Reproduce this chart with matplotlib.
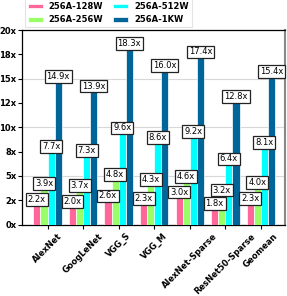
import matplotlib
matplotlib.use("Agg")
import matplotlib.pyplot as plt
from matplotlib.ticker import MultipleLocator, FuncFormatter
import numpy as np

categories = ["AlexNet", "GoogLeNet", "VGG_S", "VGG_M", "AlexNet-Sparse", "ResNet50-Sparse", "Geomean"]
series_names = ["256A-128W", "256A-256W", "256A-512W", "256A-1KW"]
s128 = [2.2, 2.0, 2.6, 2.3, 3.0, 1.8, 2.3]
s256 = [3.9, 3.7, 4.8, 4.3, 4.6, 3.2, 4.0]
s512 = [7.7, 7.3, 9.6, 8.6, 9.2, 6.4, 8.1]
s1k = [14.9, 13.9, 18.3, 16.0, 17.4, 12.8, 15.4]
colors = ["#ff6699", "#99ff66", "#00ffff", "#006699"]

fig = plt.figure(figsize=(2.87, 2.96), dpi=100)
ax = fig.add_axes([22/287, 1-224.5/296, (285-22)/287, (224.5-30)/296])

x = np.arange(len(categories))
w = 0.2
offs = [-0.3, -0.1, 0.1, 0.3]
handles = []
for vals, name, c, o in zip([s128, s256, s512, s1k], series_names, colors, offs):
    b = ax.bar(x + o, vals, w, color=c, edgecolor="white", linewidth=0.5, label=name, zorder=3)
    handles.append(b)
    for xi, v in zip(x, vals):
        ax.text(xi + o, v + 0.34, f"{v:.1f}x", ha="center", va="center", fontsize=6,
                zorder=5,
                bbox=dict(boxstyle="square,pad=0.22", fc="white", ec="#222222", lw=0.9))

ax.set_xlim(-0.72, 6.68)
ax.set_ylim(0, 20)
ax.yaxis.set_major_locator(MultipleLocator(5))
ax.yaxis.set_minor_locator(MultipleLocator(2.5))
fmt = FuncFormatter(lambda v, p: f"{v:.0f}x")
ax.yaxis.set_major_formatter(fmt)
ax.yaxis.set_minor_formatter(fmt)
ax.grid(axis="y", which="major", color="#d8d8d8", linewidth=0.8, zorder=0)
ax.set_xticks(x)
ax.set_xticklabels(categories, rotation=45, ha="center",
                   fontsize=6, fontweight="bold")
ax.tick_params(axis="y", which="both", labelsize=6, length=3, width=0.8, pad=1)
ax.tick_params(axis="x", length=3, width=0.8, pad=2)
for lab in ax.get_yticklabels(which="both"):
    lab.set_fontweight("bold")
for s in ["left", "top", "bottom"]:
    ax.spines[s].set_linewidth(0.9)
ax.spines["right"].set_color("#888888")
ax.spines["right"].set_linewidth(1.5)

leg = ax.legend(handles=handles, loc="lower left", bbox_to_anchor=(0.0, 1.0), ncol=2,
                prop=dict(size=6, weight="bold"), frameon=True, fancybox=False,
                borderaxespad=0.35, handlelength=1.8, handleheight=0.5, handletextpad=0.7,
                columnspacing=1.2, labelspacing=0.5, borderpad=0.35)
leg.get_frame().set_edgecolor("#dddddd")
leg.get_frame().set_linewidth(0.8)

fig.savefig("out.png", dpi=100)
